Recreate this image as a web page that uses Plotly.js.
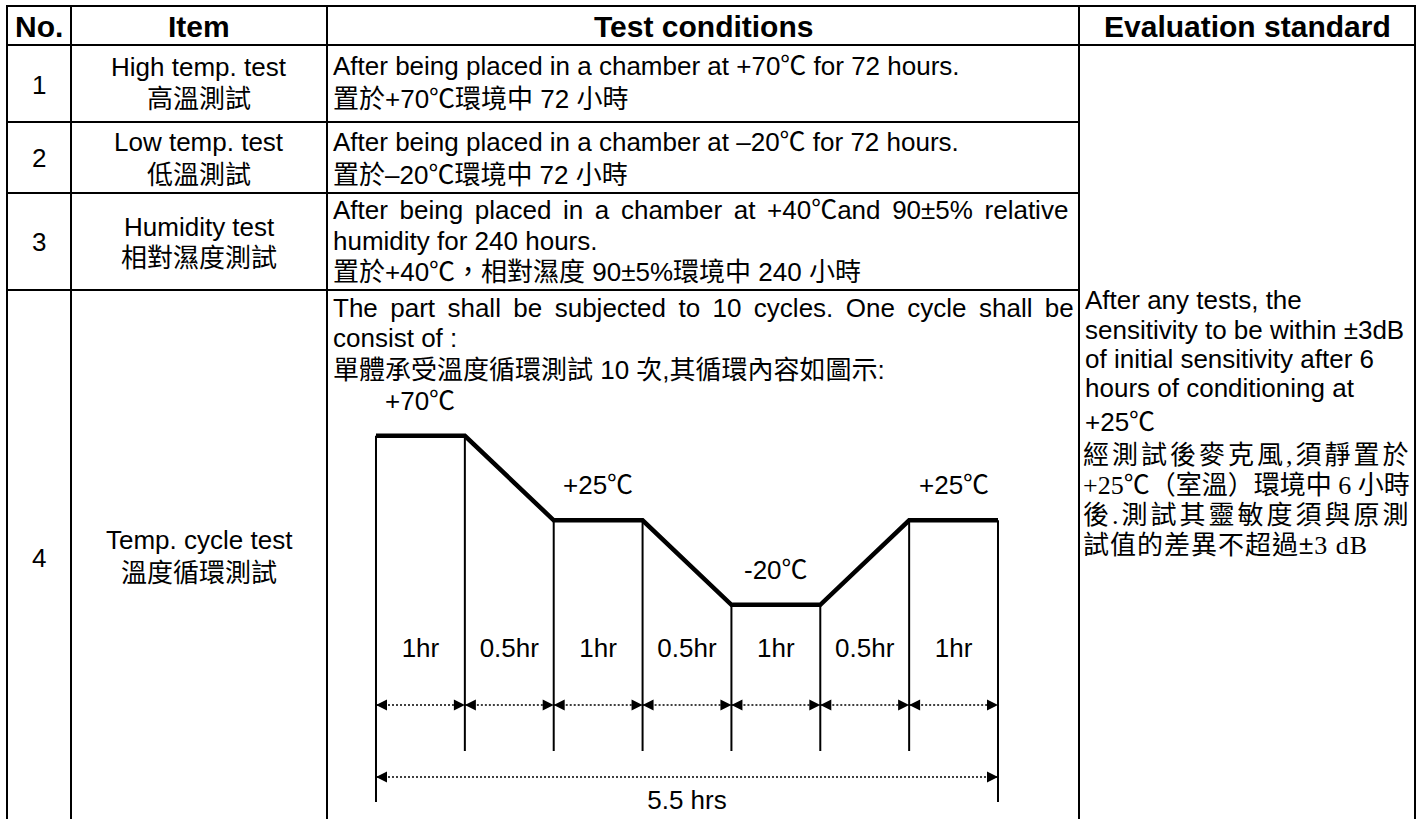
<!DOCTYPE html>
<html>
<head>
<meta charset="utf-8">
<script src="https://cdn.plot.ly/plotly-3.0.1.min.js"></script>
<style>html,body{margin:0;padding:0;background:#fff;overflow:hidden}</style>
</head>
<body>
<div id="chart" style="width:1423px;height:819px"></div>
<script>
// ---------------- data ----------------
const headers = ['No.', 'Item', 'Test conditions', 'Evaluation standard'];
const testNumbers = ['1', '2', '3', '4'];
const itemNamesEn = ['High temp. test', 'Low temp. test', 'Humidity test', 'Temp. cycle test'];
const itemNamesZh = ['高溫測試', '低溫測試', '相對濕度測試', '溫度循環測試'];
const conditionsRow1 = ['After being placed in a chamber at +70℃ for 72 hours.', '置於+70℃環境中 72 小時'];
const conditionsRow2 = ['After being placed in a chamber at –20℃ for 72 hours.', '置於–20℃環境中 72 小時'];
const conditionsRow3 = ['After being placed in a chamber at +40℃and 90±5% relative', 'humidity for 240 hours.', '置於+40℃，相對濕度 90±5%環境中 240 小時'];
const conditionsRow4 = ['The part shall be subjected to 10 cycles. One cycle shall be', 'consist of :', '單體承受溫度循環測試 10 次,其循環內容如圖示:'];
const evalLinesEn = ['After any tests, the', 'sensitivity to be within ±3dB', 'of initial sensitivity after 6', 'hours of conditioning at', '+25℃'];
const evalLinesZh = ['經測試後麥克風,須靜置於', '+25℃（室溫）環境中 6 小時', '後.測試其靈敏度須與原測', '試值的差異不超過±3 dB'];

// temperature cycle: temperature (°C) at each phase boundary, and phase durations (hours)
const boundaryTemps = [70, 70, 25, 25, -20, -20, 25, 25];
const phaseHours = [1, 0.5, 1, 0.5, 1, 0.5, 1];

// ---------------- layout helpers ----------------
const W = 1423, H = 819;
const fx = px => px / W;
const fy = py => 1 - py / H;
const SANS = '"Liberation Sans", Arial, "Noto Sans CJK TC", sans-serif';
const SERIF = '"Liberation Serif", "Times New Roman", "Noto Sans CJK TC", serif';
const bodyFont = {family: SANS, size: 26, color: '#000'};
const headFont = {family: SANS, size: 30, color: '#000'};
const serifFont = {family: SERIF, size: 26, color: '#000'};

const colEdges = [7, 71, 327, 1079, 1415];
const rowEdges = [6, 45, 122, 193, 290];
const BORDER = 2;

function txt(text, xPx, yPx, anchor, font) {
  return {xref: 'paper', yref: 'paper', x: fx(xPx), y: fy(yPx), text: text, showarrow: false,
          xanchor: anchor, yanchor: 'middle', align: anchor === 'center' ? 'center' : 'left',
          font: font, borderpad: 0};
}

const annotations = [];
const shapes = [];

// table grid
function hline(y, x0, x1) {
  shapes.push({type: 'line', xref: 'paper', yref: 'paper', x0: fx(x0), x1: fx(x1), y0: fy(y), y1: fy(y),
               line: {color: '#000', width: BORDER}});
}
function vline(x, y0, y1) {
  shapes.push({type: 'line', xref: 'paper', yref: 'paper', x0: fx(x), x1: fx(x), y0: fy(y0), y1: fy(y1),
               line: {color: '#000', width: BORDER}});
}
hline(rowEdges[0], colEdges[0] - 1, colEdges[4] + 1);
hline(rowEdges[1], colEdges[0], colEdges[4]);
for (let r = 2; r < rowEdges.length; r++) hline(rowEdges[r], colEdges[0], colEdges[3]);
colEdges.forEach(x => vline(x, rowEdges[0], H + 2));

// header
const colCenters = colEdges.slice(0, -1).map((x, i) => (x + colEdges[i + 1]) / 2);
headers.forEach((h, i) => annotations.push(txt('<b>' + h + '</b>', colCenters[i], 27, 'center', headFont)));

// rows
const numY = [85, 158, 242, 558];
const itemEnY = [67, 142, 227, 540];
const itemZhY = [99, 175, 258, 573];
const condY = [[66, 99], [142, 175], [210, 241, 272], [308, 338, 370]];
const conditions = [conditionsRow1, conditionsRow2, conditionsRow3, conditionsRow4];
const justified = {'2-0': 4.4, '3-0': 5.2};
testNumbers.forEach((n, r) => {
  annotations.push(txt(n, colCenters[0], numY[r], 'center', bodyFont));
  annotations.push(txt(itemNamesEn[r], colCenters[1], itemEnY[r], 'center', bodyFont));
  annotations.push(txt(itemNamesZh[r], colCenters[1], itemZhY[r], 'center', bodyFont));
  conditions[r].forEach((line, k) => {
    const ws = justified[r + '-' + k];
    const t = ws ? '<span style="word-spacing:' + ws + 'px">' + line + '</span>' : line;
    annotations.push(txt(t, colEdges[2] + 5, condY[r][k], 'left', bodyFont));
  });
});

// evaluation standard (merged cell)
const evalY = [300, 330, 359, 388, 422, 455, 485, 515, 545];
const zhSpacing = [3, 0, 3, 1];
evalLinesEn.forEach((line, i) => annotations.push(txt(line, colEdges[3] + 5, evalY[i], 'left', bodyFont)));
evalLinesZh.forEach((line, i) => {
  const body = line.replace('±', '<span style="font-family:Liberation Sans">±</span>');
  const t = zhSpacing[i] ? '<span style="letter-spacing:' + zhSpacing[i] + 'px">' + body + '</span>' : body;
  annotations.push(txt(t, colEdges[3] + 3, evalY[evalLinesEn.length + i], 'left', serifFont));
});

// ---------------- temperature-cycle diagram ----------------
// x axis: phase boundary index; y axis: temperature (°C), extended downward for the time dimensions
const X0PX = 376, X1PX = 998, PAD = 0.25;
const nB = boundaryTemps.length;
const unitPx = (X1PX - X0PX) / (nB - 1);
const Y_TOP_PX = 380, Y_BOT_PX = 812;
const T_TOP = 99.7, T_BOT = -130.3;
const tAt = px => T_TOP - (px - Y_TOP_PX) * (T_TOP - T_BOT) / (Y_BOT_PX - Y_TOP_PX);

const T_SEG_LABEL = tAt(650), T_DIM = tAt(705), T_INNER_END = tAt(751);
const T_TOTAL = tAt(777), T_OUTER_END = tAt(802), T_TOTAL_LABEL = tAt(802);

const bx = boundaryTemps.map((_, i) => i);
const traces = [];

// boundary verticals
const vx = [], vy = [];
bx.forEach((x, i) => {
  const outer = (i === 0 || i === nB - 1);
  vx.push(x, x, null);
  vy.push(boundaryTemps[i], outer ? T_OUTER_END : T_INNER_END, null);
});
traces.push({x: vx, y: vy, mode: 'lines', line: {color: '#000', width: 2}, hoverinfo: 'skip', cliponaxis: false});

// temperature profile
traces.push({x: bx, y: boundaryTemps, mode: 'lines', line: {color: '#000', width: 4.5}, hoverinfo: 'skip', cliponaxis: false});

// per-phase dimension lines
const dx = [], dy = [], aLx = [], aRx = [];
phaseHours.forEach((h, i) => {
  dx.push(i, i + 1, null); dy.push(T_DIM, T_DIM, null);
  aLx.push(i); aRx.push(i + 1);
});
traces.push({x: dx, y: dy, mode: 'lines', line: {color: '#000', width: 1.6, dash: '2px,2px'}, hoverinfo: 'skip'});
// total dimension line
traces.push({x: [0, nB - 1], y: [T_TOTAL, T_TOTAL], mode: 'lines', line: {color: '#000', width: 1.6, dash: '2px,2px'}, hoverinfo: 'skip'});
// arrow heads
const arrowMarker = sym => ({symbol: sym, size: 11, color: '#000', line: {width: 0}});
traces.push({x: aLx.concat([0]), y: aLx.map(() => T_DIM).concat([T_TOTAL]), mode: 'markers', marker: arrowMarker('arrow-left'), hoverinfo: 'skip', cliponaxis: false});
traces.push({x: aRx.concat([nB - 1]), y: aRx.map(() => T_DIM).concat([T_TOTAL]), mode: 'markers', marker: arrowMarker('arrow-right'), hoverinfo: 'skip', cliponaxis: false});

// phase duration labels
traces.push({x: phaseHours.map((_, i) => i + 0.5), y: phaseHours.map(() => T_SEG_LABEL),
             text: phaseHours.map(h => h + 'hr'), mode: 'text', textposition: 'middle center',
             textfont: {family: SANS, size: 26, color: '#000'}, hoverinfo: 'skip', cliponaxis: false});
// total label
const totalHours = phaseHours.reduce((a, b) => a + b, 0);
traces.push({x: [(nB - 1) / 2], y: [T_TOTAL_LABEL], text: [totalHours + ' hrs'], mode: 'text',
             textposition: 'middle center', textfont: {family: SANS, size: 26, color: '#000'},
             hoverinfo: 'skip', cliponaxis: false});

// plateau temperature labels
for (let i = 0; i < nB - 1; i++) {
  if (boundaryTemps[i] === boundaryTemps[i + 1]) {
    const t = boundaryTemps[i];
    annotations.push({xref: 'x', yref: 'y', x: i + 0.5, y: t, yshift: 35, text: (t > 0 ? '+' : '') + t + '℃',
                      showarrow: false, xanchor: 'center', yanchor: 'middle', font: bodyFont});
  }
}

const layout = {
  width: W, height: H,
  margin: {l: 0, r: 0, t: 0, b: 0},
  paper_bgcolor: '#fff', plot_bgcolor: 'rgba(0,0,0,0)',
  showlegend: false, hovermode: false,
  xaxis: {domain: [fx(X0PX - PAD * unitPx), fx(X1PX + PAD * unitPx)], range: [-PAD, nB - 1 + PAD],
          visible: false, fixedrange: true},
  yaxis: {domain: [fy(Y_BOT_PX), fy(Y_TOP_PX)], range: [T_BOT, T_TOP], visible: false, fixedrange: true},
  shapes: shapes,
  annotations: annotations
};

Plotly.newPlot('chart', traces, layout, {staticPlot: true, displayModeBar: false});
</script>
</body>
</html>
